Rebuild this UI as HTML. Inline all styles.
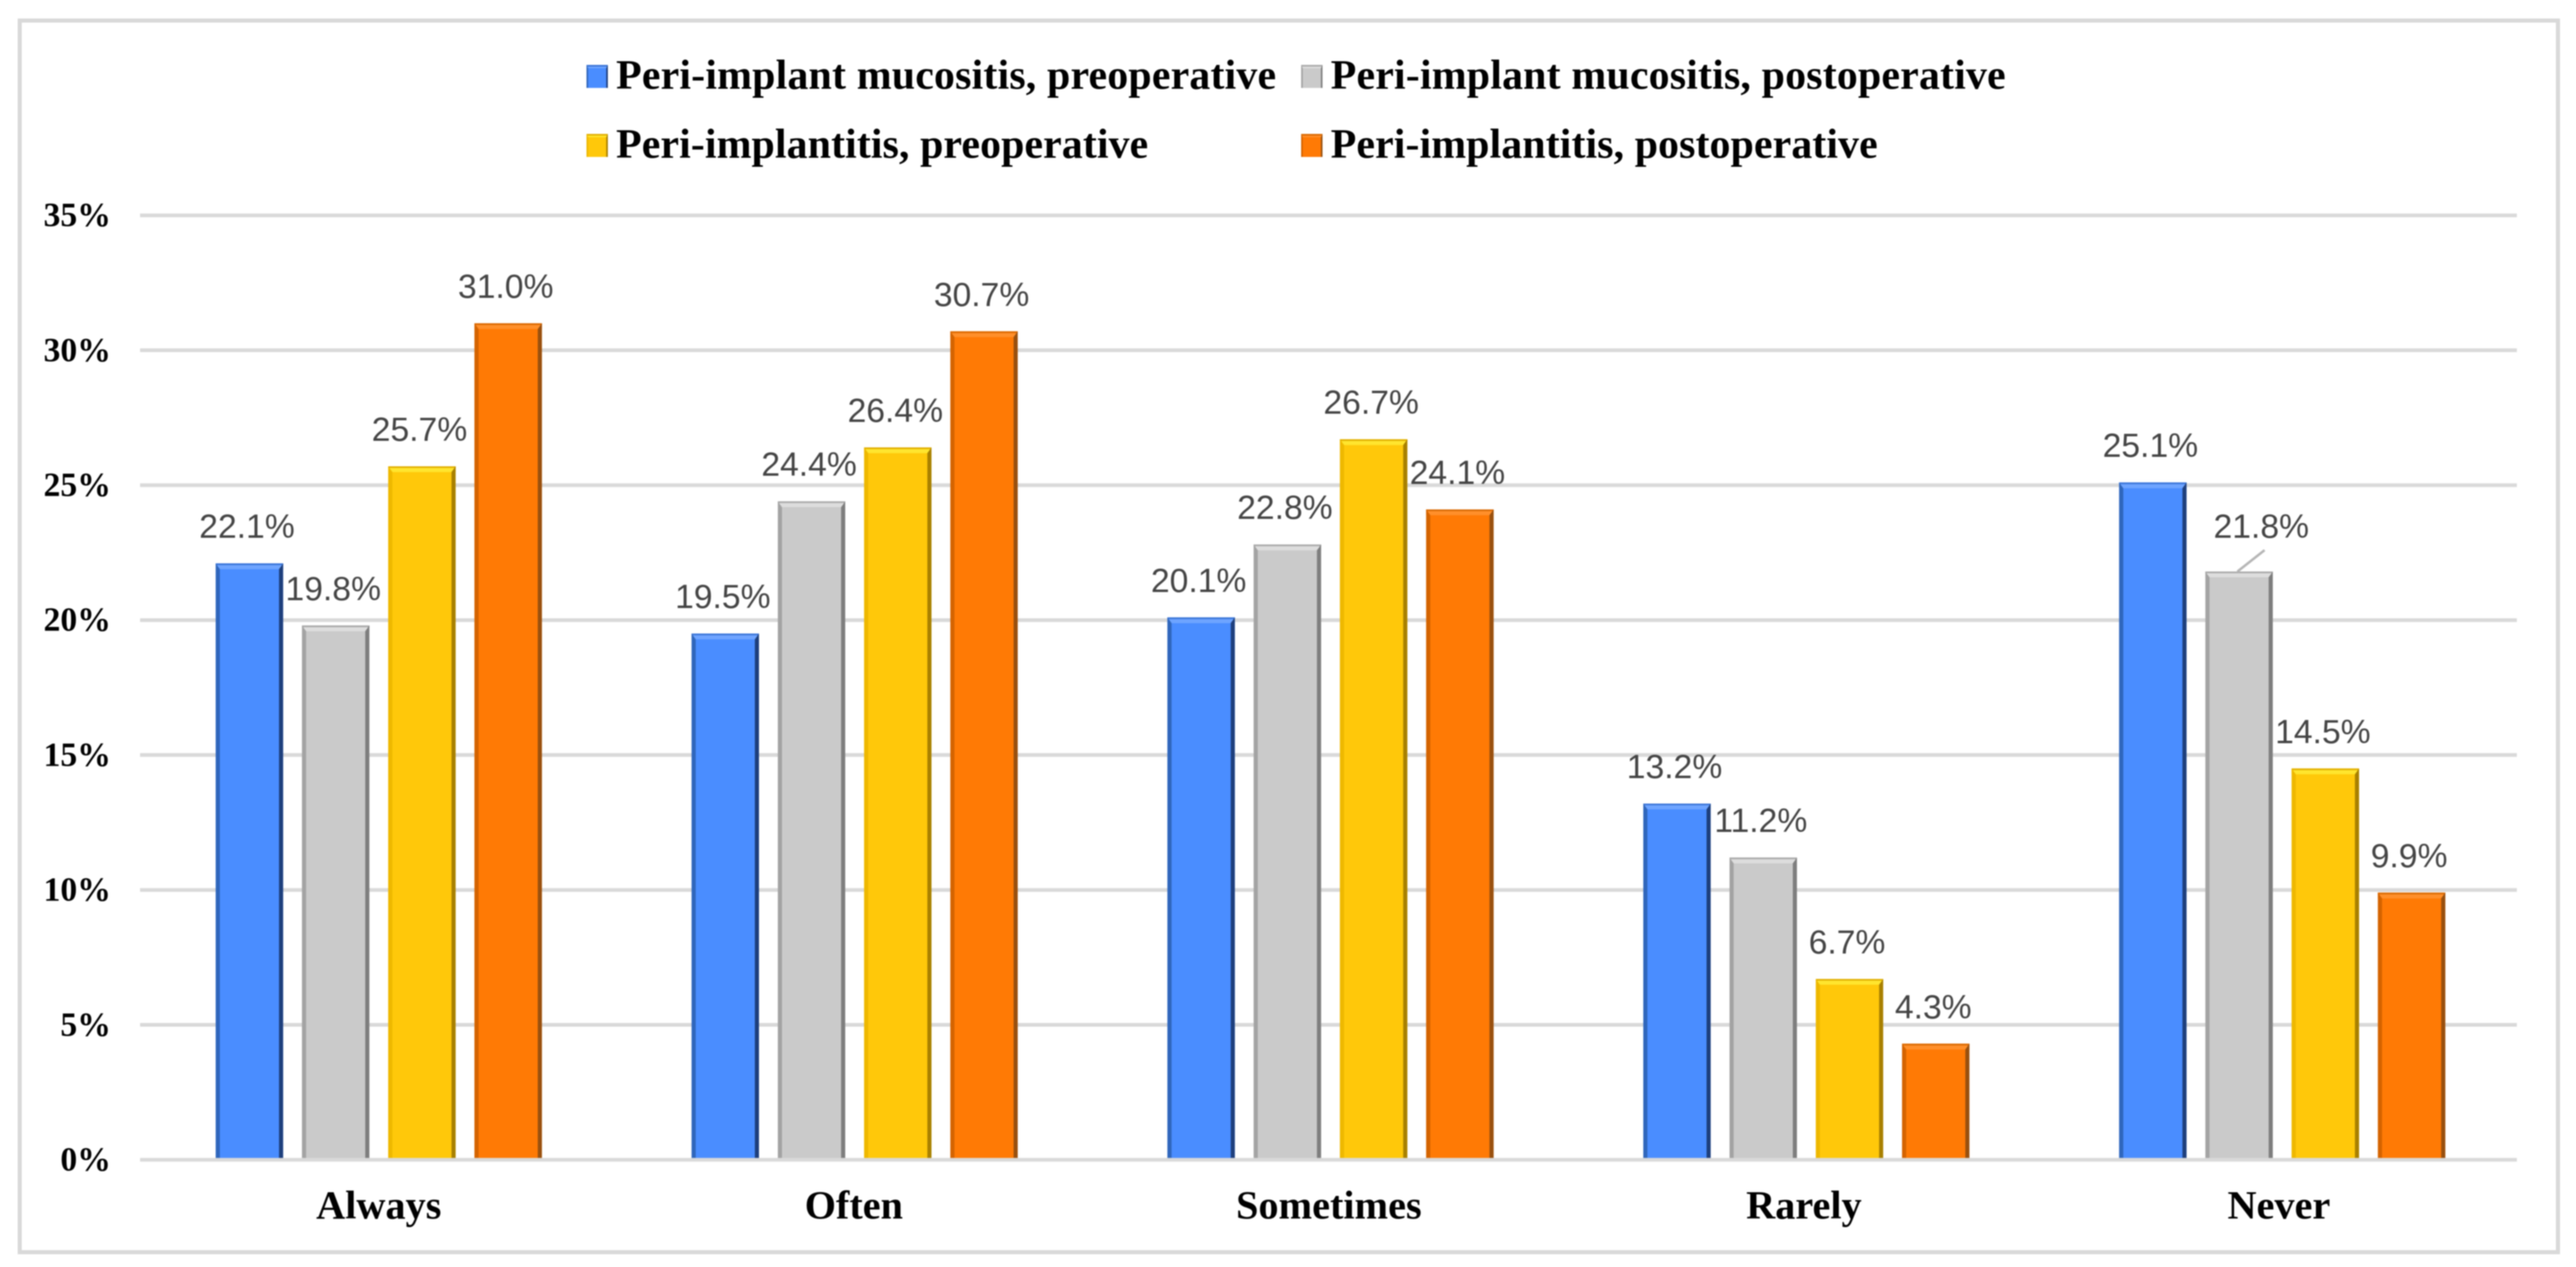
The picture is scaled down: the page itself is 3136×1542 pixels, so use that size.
<!DOCTYPE html>
<html lang="en">
<head>
<meta charset="utf-8">
<title>Peri-implant disease chart</title>
<style>
html,body{margin:0;padding:0;background:#fff;width:3136px;height:1542px;overflow:hidden}
svg{display:block;filter:blur(0.7px)}
</style>
</head>
<body>
<svg id="chart" xmlns="http://www.w3.org/2000/svg" width="3136" height="1542" viewBox="0 0 3136 1542">
  <rect x="0" y="0" width="3136" height="1542" fill="#ffffff"/>
  <rect x="24" y="25" width="3090" height="1499" fill="none" stroke="#d9d9d9" stroke-width="5"/>
  <g id="grid"></g>
  <g id="yaxis"></g>
  <g id="bars"></g>
  <g id="xaxis"></g>
  <g id="labels"></g>
  <g id="legend"></g>
</svg>
<script>
const categories = ["Always", "Often", "Sometimes", "Rarely", "Never"];
const seriesNames = ["Peri-implant mucositis, preoperative", "Peri-implant mucositis, postoperative", "Peri-implantitis, preoperative", "Peri-implantitis, postoperative"];
const mucositisPre = [22.1, 19.5, 20.1, 13.2, 25.1];
const mucositisPost = [19.8, 24.4, 22.8, 11.2, 21.8];
const implantitisPre = [25.7, 26.4, 26.7, 6.7, 14.5];
const implantitisPost = [31.0, 30.7, 24.1, 4.3, 9.9];
const yTicks = [0, 5, 10, 15, 20, 25, 30, 35];

const seriesValues = [mucositisPre, mucositisPost, implantitisPre, implantitisPost];
const palette = [
  {main:"#4a8dff", left:"#2f66bb", right:"#1e3f7c", top:"#6ea4ff", edge:"#3a74d6"},
  {main:"#cacaca", left:"#a3a3a3", right:"#7e7e7e", top:"#dddddd", edge:"#a8a8a8"},
  {main:"#ffc80a", left:"#eeb800", right:"#a88000", top:"#ffe52e", edge:"#e0ae00"},
  {main:"#ff7a05", left:"#d46300", right:"#98500f", top:"#ff8f2a", edge:"#d96800"}
];

const NS = "http://www.w3.org/2000/svg";
const PLOT_LEFT = 170.5, PLOT_RIGHT = 3064, STEP = 579.3;
const Y_ZERO = 1411.5, PX_PER_UNIT = 32.84;
const BAR_W = 82, BAR_PITCH = 105;
const SERIF = '"Liberation Serif", serif', SANS = '"Liberation Sans", sans-serif';

function yScale(v) { return Y_ZERO - v * PX_PER_UNIT; }
function bandCenter(i) { return PLOT_LEFT + STEP * (i + 0.5) + 1; }
function barX(i, s) { return bandCenter(i) + (s - 1.5) * BAR_PITCH - BAR_W / 2; }

function make(tag, attrs, parent, text) {
  const el = document.createElementNS(NS, tag);
  for (const k in attrs) el.setAttribute(k, attrs[k]);
  if (text !== undefined) el.textContent = text;
  parent.appendChild(el);
  return el;
}

function bevelBox(x, y, w, h, c, parent, side, topH) {
  make("rect", {x:x, y:y, width:w, height:h, fill:c.main}, parent);
  make("rect", {x:x, y:y, width:w, height:topH, fill:c.top}, parent);
  make("rect", {x:x, y:y, width:w, height:2, fill:c.edge}, parent);
  make("polygon", {points:[x,y, x+side,y+topH, x+side,y+h, x,y+h].join(" "), fill:c.left}, parent);
  make("polygon", {points:[x+w,y, x+w-side,y+topH, x+w-side,y+h, x+w,y+h].join(" "), fill:c.right}, parent);
}

const gridG = document.getElementById("grid");
const yG = document.getElementById("yaxis");
yTicks.forEach(function (t) {
  if (t !== 0) {
    const line = make("line", {x1:PLOT_LEFT, x2:PLOT_RIGHT, y1:yScale(t), y2:yScale(t), stroke:"#d9d9d9", "stroke-width":4.5}, gridG);
    
    
  }
  const label = make("text", {x:135, y:yScale(t) + 13, "text-anchor":"end", "font-family":SERIF, "font-weight":"bold", "font-size":41, fill:"#000"}, yG, t + "%");
  
  
});

const barsG = document.getElementById("bars");
const labelsG = document.getElementById("labels");
seriesValues.forEach(function (values, s) {
  values.forEach(function (v, i) {
    const g = make("g", {}, barsG);
    
    
    const top = yScale(v);
    const x = barX(i, s);
    bevelBox(x, top, BAR_W, Y_ZERO - top, palette[s], g, 5, 7);

    const isCallout = (s === 1 && i === 4);
    const lx = x + BAR_W / 2 - 3 + (isCallout ? 30 : 0);
    const ly = top - (isCallout ? 41 : 31);
    const t = make("text", {x:lx, y:ly, "text-anchor":"middle", "font-family":SANS, "font-size":41, fill:"#444444"}, labelsG, v.toFixed(1) + "%");
    
    
    if (isCallout) {
      const leader = make("line", {x1:x + 39, y1:top, x2:x + 72, y2:top - 26, stroke:"#b5b5b5", "stroke-width":3}, labelsG);
      
      
    }
  });
});

const xG = document.getElementById("xaxis");
const axisLine = make("line", {x1:PLOT_LEFT, x2:PLOT_RIGHT, y1:Y_ZERO, y2:Y_ZERO, stroke:"#d9d9d9", "stroke-width":4.5}, xG);


categories.forEach(function (c, i) {
  const t = make("text", {x:bandCenter(i) - i, y:1483, "text-anchor":"middle", "font-family":SERIF, "font-weight":"bold", "font-size":49, fill:"#000"}, xG, c);
  
  
});

const legendG = document.getElementById("legend");
seriesNames.forEach(function (name, s) {
  const col = s % 2, row = Math.floor(s / 2);
  const sx = 714 + col * 870, sy = 79 + row * 84;
  const g = make("g", {}, legendG);
  
  
  bevelBox(sx, sy, 26, 28, palette[s], g, 2, 4);
  const t = make("text", {x:sx + 36, y:sy + 29, "font-family":SERIF, "font-weight":"bold", "font-size":51, "letter-spacing":row === 0 ? 0.2 : 0.1, fill:"#000"}, g, name);
  
  
});
</script>
</body>
</html>
